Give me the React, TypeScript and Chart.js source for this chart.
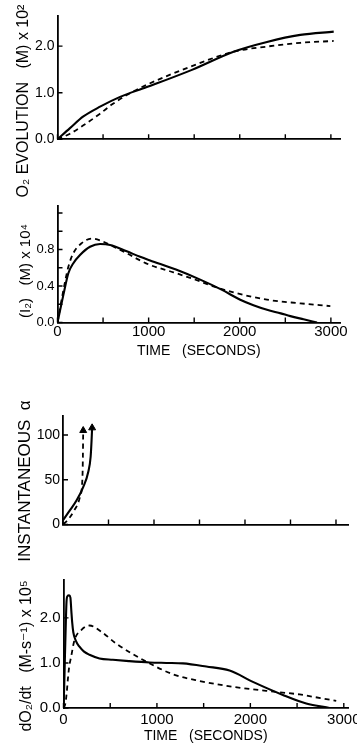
import React, { useEffect, useRef } from 'react';
import { Chart, registerables } from 'chart.js';

Chart.register(...registerables);

// ---------- DATA ----------
// shared time axis ticks (seconds)
const timeTicks = [0, 500, 1000, 1500, 2000, 2500, 3000];
const timeLabels = [0, 1000, 2000, 3000];

// Panel 1: O2 evolution (M) x 10^2
const o2Ticks = [0, 1, 2];
const o2SolidT = [0, 137, 284, 467, 687, 980, 1475, 1932, 2299, 2664, 3031];
const o2SolidV = [0, 0.24, 0.49, 0.7, 0.91, 1.12, 1.49, 1.88, 2.09, 2.24, 2.31];
const o2DashT = [0, 137, 284, 467, 600, 760, 980, 1475, 1932, 2299, 2664, 3031];
const o2DashV = [0, 0.12, 0.3, 0.55, 0.75, 0.95, 1.17, 1.57, 1.88, 1.99, 2.07, 2.11];

// Panel 2: (I2) (M) x 10^4
const i2Ticks = [0, 0.2, 0.4, 0.6, 0.8, 1.0, 1.2];
const i2Labels = [0, 0.4, 0.8];
const i2SolidT = [0, 64, 119, 174, 247, 357, 467, 577, 760, 907, 1016, 1300, 1566, 1800, 2005, 2150, 2299, 2450, 2555, 2700, 2848];
const i2SolidV = [0, 0.3, 0.54, 0.65, 0.74, 0.83, 0.86, 0.85, 0.78, 0.72, 0.68, 0.58, 0.47, 0.36, 0.25, 0.19, 0.14, 0.1, 0.07, 0.035, 0];
const i2DashT = [0, 60, 119, 174, 266, 375, 467, 577, 760, 907, 1016, 1272, 1566, 1670, 1932, 2299, 2664, 2994];
const i2DashV = [0, 0.33, 0.61, 0.76, 0.87, 0.92, 0.9, 0.85, 0.76, 0.68, 0.63, 0.55, 0.45, 0.41, 0.33, 0.25, 0.21, 0.18];

// Panel 3: instantaneous alpha
const alphaTicks = [0, 50, 100];
const alphaSolidT = [0, 77, 150, 223, 278, 304, 314, 320];
const alphaSolidV = [5, 16, 27, 42, 59, 76, 94, 108];
const alphaDashT = [0, 22, 113, 187, 214, 219, 221, 222];
const alphaDashV = [1, 2, 14, 31, 53, 79, 96, 105];

// Panel 4: dO2/dt (M-s^-1) x 10^5
const rateTicks = [0, 1, 2];
const rateSolidT = [0, 8, 16, 25, 32, 42, 60, 74, 84, 93, 105, 130, 171, 220, 278, 385, 528, 700, 921, 1100, 1278, 1528, 1777, 2027, 2348, 2598, 2848];
const rateSolidV = [0, 0.5, 1.2, 1.9, 2.35, 2.48, 2.5, 2.45, 2.15, 1.9, 1.68, 1.5, 1.36, 1.25, 1.18, 1.1, 1.07, 1.04, 1.01, 1.0, 0.99, 0.92, 0.83, 0.58, 0.29, 0.1, 0];
const rateDashT = [0, 20, 35, 46, 60, 82, 118, 190, 278, 400, 564, 885, 1170, 1456, 1813, 2170, 2527, 2750, 2919];
const rateDashV = [0, 0.1, 0.35, 0.62, 0.9, 1.14, 1.51, 1.73, 1.83, 1.7, 1.43, 1.03, 0.75, 0.6, 0.47, 0.38, 0.3, 0.22, 0.16];

const xTitleText = 'TIME   (SECONDS)';

// ---------- HELPERS ----------
const pts = (t: number[], v: number[]) => t.map((x, i) => ({ x, y: v[i] }));
const FONT = "'Liberation Sans', 'DejaVu Sans', sans-serif";

const innerTicks = {
  id: 'innerTicks',
  afterDraw(chart: any) {
    const { ctx, chartArea } = chart;
    const xs = chart.scales.x;
    const ys = chart.scales.y;
    const len = 5;
    ctx.save();
    ctx.strokeStyle = '#000';
    ctx.lineWidth = 1.4;
    ctx.beginPath();
    for (const t of xs.ticks) {
      const px = xs.getPixelForValue(t.value);
      ctx.moveTo(px, chartArea.bottom);
      ctx.lineTo(px, chartArea.bottom - len);
    }
    for (const t of ys.ticks) {
      const py = ys.getPixelForValue(t.value);
      ctx.moveTo(chartArea.left, py);
      ctx.lineTo(chartArea.left + len, py);
    }
    ctx.stroke();
    ctx.restore();
  },
};

type PanelCfg = {
  solid: { x: number; y: number }[];
  dashed: { x: number; y: number }[];
  arrows?: boolean;
  xMax: number;
  yMax: number;
  yTicks: number[];
  yLabels: number[];
  yFmt: (v: number) => string;
  showX: boolean;
  xTitle?: string;
  xLabelPad: number;
  xTitlePadB: number;
  title: string;
  titleSize: number;
  titlePad: number;
  yWidth: number;
  pad: { left: number; right: number; top: number; bottom: number };
  gapTop: number;
  xh: number;
  yFont: number;
};

const panels: PanelCfg[] = [
  {
    solid: pts(o2SolidT, o2SolidV),
    dashed: pts(o2DashT, o2DashV),
    xMax: 3100, yMax: 2.65,
    yTicks: o2Ticks, yLabels: o2Ticks, yFmt: (v) => v.toFixed(1),
    showX: false, xLabelPad: 0, xTitlePadB: 0,
    title: 'O₂ EVOLUTION   (M) x 10²', titleSize: 16, titlePad: 14.4,
    yWidth: 23.9, pad: { left: 0, right: 17, top: 0, bottom: 543 }, gapTop: 15.8, xh: 62.7, yFont: 14,
  },
  {
    solid: pts(i2SolidT, i2SolidV),
    dashed: pts(i2DashT, i2DashV),
    xMax: 3100, yMax: 1.28,
    yTicks: i2Ticks, yLabels: i2Labels, yFmt: (v) => v.toFixed(1),
    showX: true, xTitle: xTitleText, xLabelPad: 0.5, xTitlePadB: 0.9,
    title: '(I₂)   (M) x 10⁴', titleSize: 15, titlePad: 17,
    yWidth: 22.5, pad: { left: 0, right: 17, top: 182, bottom: 385 }, gapTop: 23.7, xh: 37.5, yFont: 13,
  },
  {
    solid: pts(alphaSolidT, alphaSolidV),
    dashed: pts(alphaDashT, alphaDashV),
    arrows: true,
    xMax: 3132, yMax: 121,
    yTicks: alphaTicks, yLabels: alphaTicks, yFmt: (v) => String(v),
    showX: false, xLabelPad: 0, xTitlePadB: 0,
    title: 'INSTANTANEOUS  α', titleSize: 17, titlePad: 15.3,
    yWidth: 27.3, pad: { left: 0, right: 9, top: 390, bottom: 173 }, gapTop: 26.2, xh: 47.5, yFont: 14,
  },
  {
    solid: pts(rateSolidT, rateSolidV),
    dashed: pts(rateDashT, rateDashV),
    xMax: 3045, yMax: 2.84,
    yTicks: rateTicks, yLabels: rateTicks, yFmt: (v) => v.toFixed(1),
    showX: true, xTitle: xTitleText, xLabelPad: 3, xTitlePadB: 0,
    title: 'dO₂/dt   (M-s⁻¹) x 10⁵', titleSize: 16, titlePad: 17.4,
    yWidth: 26.9, pad: { left: 0, right: 9, top: 567, bottom: 0 }, gapTop: 13, xh: 37, yFont: 15,
  },
];

function buildConfig(p: PanelCfg): any {
  const arrowRadius = (n: number) => (ctx: any) => (p.arrows && ctx.dataIndex === n - 1 ? 4 : 0);
  return {
    type: 'line',
    data: {
      datasets: [
        {
          data: p.solid,
          borderColor: '#000',
          borderWidth: 2.1,
          fill: false,
          cubicInterpolationMode: 'monotone',
          pointRadius: arrowRadius(p.solid.length),
          pointStyle: 'triangle',
          pointBackgroundColor: '#000',
          pointBorderColor: '#000',
          pointBorderWidth: 1,
        },
        {
          data: p.dashed,
          borderColor: '#000',
          borderWidth: 1.8,
          borderDash: [5, 4],
          fill: false,
          cubicInterpolationMode: 'monotone',
          pointRadius: arrowRadius(p.dashed.length),
          pointStyle: 'triangle',
          pointBackgroundColor: '#000',
          pointBorderColor: '#000',
          pointBorderWidth: 1,
        },
      ],
    },
    options: {
      responsive: false,
      maintainAspectRatio: false,
      animation: false,
      events: [],
      layout: { padding: p.pad },
      plugins: {
        legend: { display: false },
        tooltip: { enabled: false },
        title: {
          display: true,
          position: 'left',
          align: 'center',
          fullSize: true,
          text: p.title,
          color: '#000',
          font: { family: FONT, size: p.titleSize, weight: 'normal' },
          padding: { top: p.titlePad, bottom: 0 },
        },
      },
      scales: {
        x: {
          type: 'linear',
          position: 'bottom',
          min: 0,
          max: p.xMax,
          afterBuildTicks: (s: any) => {
            s.ticks = timeTicks.map((value) => ({ value }));
          },
          ticks: {
            display: p.showX,
            autoSkip: false,
            maxRotation: 0,
            padding: p.xLabelPad,
            color: '#000',
            font: { family: FONT, size: 15 },
            callback: (v: number) => (timeLabels.includes(v) ? String(v) : ''),
          },
          grid: { display: false, drawTicks: false },
          border: { display: true, color: '#000', width: 1.8 },
          title: {
            display: !!p.xTitle,
            text: p.xTitle || '',
            color: '#000',
            font: { family: FONT, size: 14 },
            padding: { top: 0, bottom: p.xTitlePadB },
          },
          afterFit: (s: any) => {
            s.height = p.xh;
            s.paddingLeft = 0;
            s.paddingRight = 0;
          },
        },
        xTop: {
          type: 'linear',
          position: 'top',
          display: true,
          grid: { display: false, drawTicks: false },
          border: { display: false },
          ticks: { display: false },
          afterFit: (s: any) => {
            s.height = p.gapTop;
            s.paddingLeft = 0;
            s.paddingRight = 0;
          },
        },
        y: {
          type: 'linear',
          position: 'left',
          min: 0,
          max: p.yMax,
          afterBuildTicks: (s: any) => {
            s.ticks = p.yTicks.map((value) => ({ value }));
          },
          ticks: {
            autoSkip: false,
            padding: 3,
            color: '#000',
            font: { family: FONT, size: p.yFont },
            callback: (v: number) => (p.yLabels.includes(v) ? p.yFmt(v) : ''),
          },
          grid: { display: false, drawTicks: false },
          border: { display: true, color: '#000', width: 1.8 },
          afterFit: (s: any) => {
            s.width = p.yWidth;
            s.paddingTop = 0;
            s.paddingBottom = 0;
          },
        },
      },
    },
    plugins: [innerTicks],
  };
}

function Panel({ cfg }: { cfg: PanelCfg }) {
  const ref = useRef<HTMLCanvasElement>(null);
  useEffect(() => {
    if (!ref.current) return;
    const chart = new Chart(ref.current, buildConfig(cfg));
    return () => chart.destroy();
  }, [cfg]);
  return (
    <canvas
      ref={ref}
      width={357}
      height={745}
      style={{ position: 'absolute', left: 0, top: 0, width: 357, height: 745 }}
    />
  );
}

export default function App() {
  return (
    <div style={{ position: 'absolute', left: 0, top: 0, width: 357, height: 745, background: '#fff', overflow: 'hidden' }}>
      {panels.map((p, i) => (
        <Panel key={i} cfg={p} />
      ))}
    </div>
  );
}
